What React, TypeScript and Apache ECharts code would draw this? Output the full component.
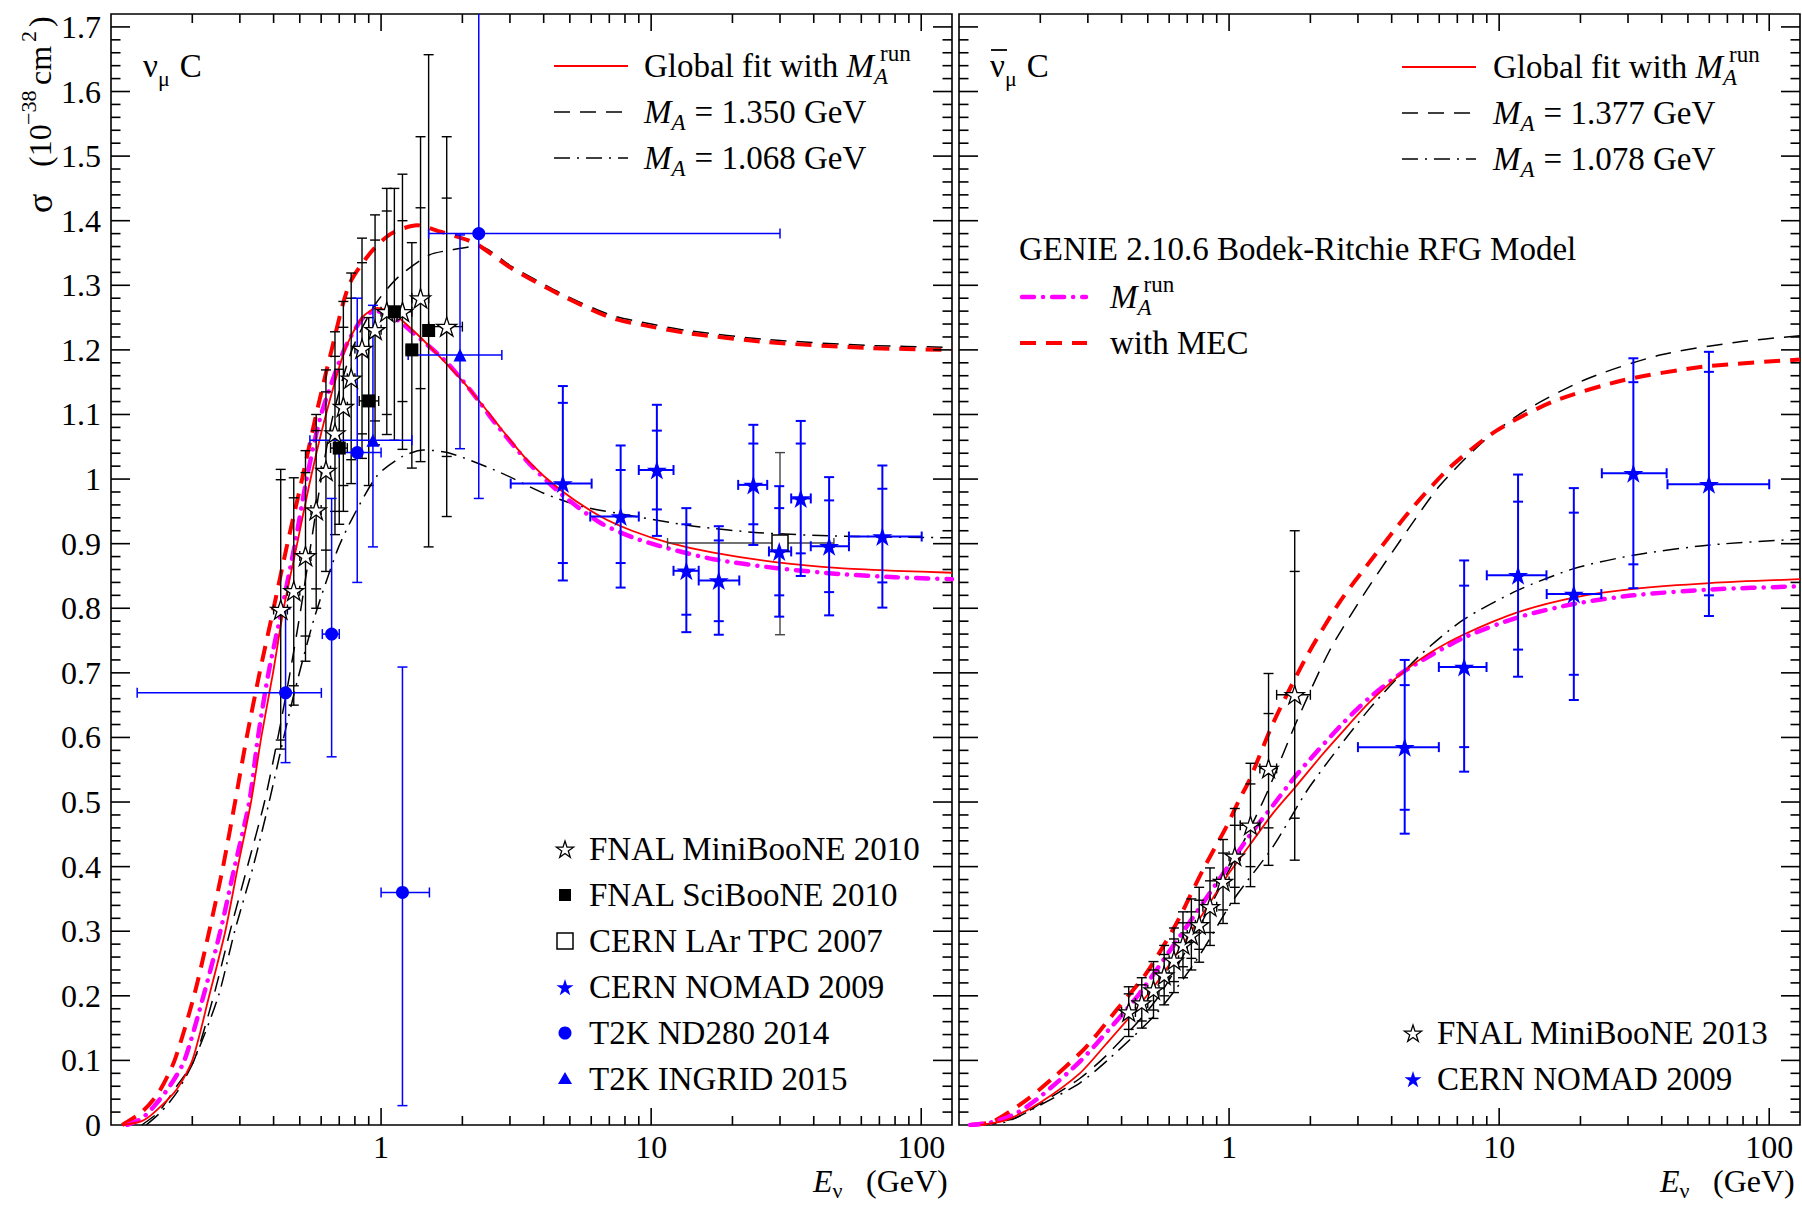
import React, { useEffect, useRef } from 'react';
import * as echarts from 'echarts';

const SERIF = '"Liberation Serif", "Times New Roman", Times, serif';
const X_MIN = 0.1;
const X_MAX = 130;
const Y_MIN = 0;
const Y_MAX = 1.72;

// ---------------- axis ticks / labels ----------------
const xLabelValues = [1, 10, 100];
const xMajorTicks = [1, 10, 100];
const xMinorTicks = [0.2, 0.3, 0.4, 0.5, 0.6, 0.7, 0.8, 0.9, 2, 3, 4, 5, 6, 7, 8, 9, 20, 30, 40, 50, 60, 70, 80, 90];
const yLabelValues = [0, 0.1, 0.2, 0.3, 0.4, 0.5, 0.6, 0.7, 0.8, 0.9, 1.0, 1.1, 1.2, 1.3, 1.4, 1.5, 1.6, 1.7];
const yMinorStep = 0.02;

// ---------------- model curves: nu_mu C (left) [E GeV, sigma] ----------------
const nuGlobalFit = [
  [0.11, 0], [0.13, 0.006], [0.145, 0.02], [0.175, 0.055], [0.2, 0.1], [0.231, 0.2], [0.265, 0.3], [0.295, 0.4],
  [0.33, 0.5], [0.36, 0.6], [0.398, 0.7], [0.436, 0.8], [0.489, 0.9], [0.548, 1.0], [0.625, 1.1], [0.735, 1.2],
  [0.85, 1.25], [0.97, 1.265], [1.1, 1.257], [1.3, 1.232], [1.6, 1.195], [2.0, 1.152], [2.4, 1.112], [2.77, 1.079],
  [3.5, 1.028], [4.62, 0.983], [6.5, 0.942], [8.5, 0.92], [11.5, 0.902], [17, 0.886], [29.3, 0.871], [50, 0.862],
  [80, 0.858], [130, 0.855],
];
const nuMArun = [
  [0.115, 0], [0.13, 0.01], [0.145, 0.03], [0.165, 0.06], [0.187, 0.1], [0.22, 0.2], [0.254, 0.3], [0.287, 0.4],
  [0.325, 0.5], [0.35, 0.6], [0.383, 0.7], [0.43, 0.8], [0.48, 0.9], [0.53, 1.0], [0.6, 1.1], [0.73, 1.2],
  [0.85, 1.248], [0.95, 1.26], [1.1, 1.252], [1.3, 1.228], [1.72, 1.184], [1.99, 1.154], [2.27, 1.124], [2.63, 1.088],
  [3.52, 1.025], [4.7, 0.975], [6.5, 0.932], [8.5, 0.91], [11.5, 0.893], [17, 0.876], [29.3, 0.862], [50, 0.853],
  [80, 0.848], [130, 0.845],
];
const nuMEC = [
  [0.11, 0], [0.13, 0.02], [0.15, 0.05], [0.172, 0.1], [0.203, 0.2], [0.231, 0.3], [0.26, 0.4], [0.288, 0.5],
  [0.318, 0.6], [0.355, 0.7], [0.4, 0.8], [0.45, 0.9], [0.51, 1.0], [0.575, 1.1], [0.656, 1.2], [0.76, 1.3],
  [0.92, 1.352], [1.09, 1.38], [1.36, 1.393], [1.66, 1.383], [2.09, 1.37], [2.3, 1.362], [3.02, 1.327], [4.62, 1.285],
  [7.07, 1.25], [10, 1.236], [13.6, 1.226], [26.9, 1.212], [63, 1.203], [130, 1.2],
];
const nuMA1350 = [
  [0.13, 0], [0.15, 0.02], [0.175, 0.06], [0.203, 0.1], [0.24, 0.2], [0.276, 0.3], [0.32, 0.4], [0.37, 0.5],
  [0.415, 0.6], [0.46, 0.7], [0.505, 0.8], [0.55, 0.9], [0.6, 1.0], [0.665, 1.1], [0.78, 1.2], [0.95, 1.27],
  [1.16, 1.313], [1.51, 1.347], [1.84, 1.355], [2.3, 1.361], [3.02, 1.33], [4.62, 1.288], [7.07, 1.254], [10, 1.24],
  [13.6, 1.23], [26.9, 1.216], [63, 1.207], [130, 1.204],
];
const nuMA1068 = [
  [0.135, 0], [0.153, 0.02], [0.175, 0.05], [0.203, 0.1], [0.25, 0.2], [0.287, 0.3], [0.336, 0.4], [0.385, 0.5],
  [0.436, 0.6], [0.481, 0.675], [0.566, 0.785], [0.689, 0.89], [0.784, 0.94], [0.97, 1.006], [1.2, 1.035], [1.44, 1.045],
  [1.8, 1.04], [2.77, 1.01], [4.0, 0.978], [5.5, 0.958], [7.5, 0.947], [14.4, 0.927], [25, 0.917], [47.5, 0.912],
  [130, 0.909],
];

// ---------------- model curves: anti-nu_mu C (right) ----------------
const nubarGlobalFit = [
  [0.12, 0], [0.15, 0.008], [0.2, 0.035], [0.28, 0.08], [0.35, 0.125], [0.43, 0.168], [0.55, 0.225], [0.7, 0.29],
  [0.873, 0.352], [1.0, 0.39], [1.2, 0.435], [1.45, 0.482], [1.75, 0.522], [2.2, 0.572], [2.57, 0.604], [3.32, 0.655],
  [4.47, 0.703], [5.5, 0.73], [7.36, 0.759], [11.75, 0.794], [19.1, 0.817], [31.4, 0.83], [60.3, 0.839], [130, 0.845],
];
const nubarMArun = [
  [0.11, 0], [0.135, 0.005], [0.163, 0.018], [0.2, 0.044], [0.28, 0.098], [0.372, 0.155], [0.467, 0.204], [0.657, 0.292],
  [0.898, 0.374], [1.2, 0.45], [1.455, 0.495], [1.7, 0.532], [1.935, 0.56], [2.64, 0.622], [3.32, 0.662], [4.47, 0.703],
  [7.36, 0.754], [11.75, 0.786], [19.1, 0.807], [31.4, 0.82], [60.3, 0.829], [130, 0.834],
];
const nubarMEC = [
  [0.11, 0], [0.133, 0.005], [0.178, 0.039], [0.226, 0.075], [0.296, 0.121], [0.383, 0.178], [0.494, 0.235], [0.638, 0.312],
  [0.8, 0.395], [0.978, 0.462], [1.095, 0.505], [1.19, 0.534], [1.455, 0.622], [1.935, 0.725], [2.57, 0.81], [3.32, 0.872],
  [4.7, 0.952], [6.57, 1.018], [9.78, 1.075], [15.85, 1.12], [28.8, 1.153], [57, 1.174], [130, 1.185],
];
const nubarMA1377 = [
  [0.12, 0], [0.16, 0.01], [0.2, 0.033], [0.28, 0.072], [0.36, 0.112], [0.54, 0.195], [0.76, 0.3], [1.0, 0.395],
  [1.2, 0.46], [1.4, 0.52], [1.78, 0.625], [2.36, 0.735], [3.23, 0.828], [4.58, 0.921], [6.03, 0.99], [8.72, 1.058],
  [12.6, 1.107], [21.1, 1.155], [39.4, 1.192], [75.7, 1.212], [130, 1.222],
];
const nubarMA1078 = [
  [0.12, 0], [0.15, 0.005], [0.2, 0.031], [0.28, 0.065], [0.361, 0.103], [0.539, 0.173], [0.757, 0.255], [1.035, 0.348],
  [1.455, 0.431], [1.99, 0.524], [3.32, 0.645], [5.09, 0.727], [7.36, 0.782], [11.75, 0.828], [19.1, 0.862], [31.4, 0.882],
  [60.3, 0.898], [130, 0.907],
];

// ---------------- data points: [E, sigma, Elo, Ehi, sigLo, sigHi, innerLo, innerHi] ----------------
const nuMiniBooNE2010 = [
  [0.425, 0.798, 0.40, 0.45, 0.582, 1.015, 0.596, 0.999],
  [0.475, 0.827, 0.45, 0.50, 0.650, 1.002, 0.680, 0.971],
  [0.525, 0.881, 0.50, 0.55, 0.718, 1.044, 0.757, 1.010],
  [0.575, 0.952, 0.55, 0.60, 0.800, 1.100, 0.830, 1.075],
  [0.625, 1.013, 0.60, 0.65, 0.857, 1.169, 0.890, 1.135],
  [0.675, 1.071, 0.65, 0.70, 0.914, 1.228, 0.950, 1.190],
  [0.725, 1.112, 0.70, 0.75, 0.950, 1.275, 0.990, 1.235],
  [0.775, 1.156, 0.75, 0.80, 0.993, 1.319, 1.030, 1.280],
  [0.85, 1.202, 0.80, 0.90, 1.032, 1.373, 1.070, 1.335],
  [0.95, 1.231, 0.90, 1.00, 1.053, 1.409, 1.090, 1.370],
  [1.05, 1.259, 1.00, 1.10, 1.069, 1.450, 1.100, 1.415],
  [1.2, 1.259, 1.10, 1.30, 1.046, 1.472, 1.120, 1.400],
  [1.4, 1.280, 1.30, 1.50, 1.027, 1.530, 1.140, 1.420],
  [1.75, 1.236, 1.50, 2.00, 0.942, 1.530, 1.035, 1.435],
];
const nuSciBooNE2010 = [
  [0.70, 1.048, 0.65, 0.75, 0.930, 1.170, null, null],
  [0.90, 1.121, 0.83, 0.98, 0.990, 1.250, null, null],
  [1.12, 1.259, 1.06, 1.18, 1.060, 1.450, null, null],
  [1.30, 1.200, 1.24, 1.36, 1.017, 1.366, null, null],
  [1.50, 1.230, 1.44, 1.56, 0.895, 1.657, null, null],
];
const nuLArTPC2007 = [
  [30, 0.901, 11.5, 47.5, 0.759, 1.041, null, null],
];
const nuNOMAD2009 = [
  [4.71, 0.993, 3.02, 6.02, 0.843, 1.144, 0.870, 1.118],
  [7.71, 0.942, 5.95, 9.0, 0.832, 1.052, 0.870, 1.014],
  [10.5, 1.014, 9.0, 12.1, 0.912, 1.115, 0.953, 1.075],
  [13.5, 0.858, 12.1, 15.0, 0.763, 0.955, 0.790, 0.930],
  [17.8, 0.843, 15.0, 21.2, 0.759, 0.927, 0.780, 0.905],
  [23.9, 0.991, 21.0, 26.9, 0.898, 1.084, 0.930, 1.055],
  [29.8, 0.888, 27.3, 33.0, 0.787, 0.989, 0.820, 0.955],
  [35.8, 0.970, 33.0, 39.0, 0.850, 1.090, 0.885, 1.055],
  [45.6, 0.896, 39.0, 54.0, 0.789, 1.003, 0.825, 0.967],
  [71.8, 0.911, 54.0, 100.4, 0.801, 1.021, 0.840, 0.985],
];
const nuND2802014 = [
  [0.443, 0.669, 0.125, 0.601, 0.561, 0.799, null, null],
  [0.656, 0.760, 0.606, 0.70, 0.570, 0.970, null, null],
  [0.816, 1.041, 0.70, 1.0, 0.840, 1.280, null, null],
  [1.2, 0.360, 1.0, 1.51, 0.030, 0.709, null, null],
  [2.3, 1.380, 1.5, 30, 0.970, 1.850, null, null],
];
const nuINGRID2015 = [
  [0.933, 1.060, 0.545, 1.30, 0.895, 1.269, null, null],
  [1.96, 1.192, 1.26, 2.8, 1.047, 1.378, null, null],
];

const nubarMiniBooNE2013 = [
  [0.425, 0.175, 0.40, 0.45, 0.137, 0.214, 0.148, 0.203],
  [0.475, 0.189, 0.45, 0.50, 0.150, 0.228, 0.161, 0.217],
  [0.525, 0.209, 0.50, 0.55, 0.165, 0.253, 0.178, 0.240],
  [0.575, 0.232, 0.55, 0.60, 0.186, 0.278, 0.200, 0.264],
  [0.625, 0.255, 0.60, 0.65, 0.205, 0.305, 0.222, 0.288],
  [0.675, 0.279, 0.65, 0.70, 0.228, 0.330, 0.245, 0.313],
  [0.725, 0.294, 0.70, 0.75, 0.240, 0.350, 0.258, 0.330],
  [0.775, 0.310, 0.75, 0.80, 0.252, 0.368, 0.272, 0.348],
  [0.85, 0.338, 0.80, 0.90, 0.278, 0.398, 0.298, 0.378],
  [0.95, 0.377, 0.90, 1.00, 0.312, 0.442, 0.333, 0.421],
  [1.05, 0.416, 1.00, 1.10, 0.343, 0.490, 0.368, 0.464],
  [1.2, 0.464, 1.10, 1.30, 0.369, 0.560, 0.400, 0.528],
  [1.4, 0.552, 1.30, 1.50, 0.402, 0.699, 0.460, 0.637],
  [1.75, 0.666, 1.50, 2.00, 0.410, 0.920, 0.475, 0.857],
];
const nubarNOMAD2009 = [
  [4.47, 0.585, 3.0, 5.98, 0.451, 0.720, 0.488, 0.681],
  [7.42, 0.709, 5.98, 8.98, 0.547, 0.874, 0.585, 0.835],
  [11.75, 0.851, 9.0, 14.97, 0.694, 1.007, 0.736, 0.965],
  [18.9, 0.822, 15.0, 23.9, 0.658, 0.986, 0.697, 0.948],
  [31.4, 1.009, 24.0, 41.7, 0.831, 1.187, 0.868, 1.150],
  [59.8, 0.992, 42.0, 100, 0.788, 1.197, 0.820, 1.166],
];

// ---------------- helpers ----------------
const STAR_PATH =
  'path://M50,2 L60.76,35.19 L95.65,35.17 L67.4,55.65 L78.21,88.83 L50,68.3 L21.79,88.83 L32.6,55.65 L4.35,35.17 L39.24,35.19 Z';

let measureCtx: CanvasRenderingContext2D | null = null;
function tw(t: string, size: number, italic: boolean) {
  if (!measureCtx) measureCtx = document.createElement('canvas').getContext('2d');
  if (!measureCtx) return t.length * size * 0.5;
  measureCtx.font = `${italic ? 'italic ' : ''}${size}px ${SERIF}`;
  return measureCtx.measureText(t).width;
}

function txt(x: number, y: number, t: string, size: number, italic = false, fill = '#000') {
  return {
    type: 'text',
    x,
    y,
    silent: true,
    style: {
      text: t,
      fontSize: size,
      fontFamily: SERIF,
      fontStyle: italic ? 'italic' : 'normal',
      fill,
      align: 'left',
      textAlign: 'left',
      verticalAlign: 'middle',
      textVerticalAlign: 'middle',
    },
  };
}

type Piece = { t: string; size?: number; it?: boolean; dy?: number; dx?: number; same?: boolean; ax?: number };
const LS = 33; // legend font size
function textRun(x0: number, y0: number, pieces: Piece[], base = LS) {
  const els: any[] = [];
  let cursor = x0;
  let prevStart = x0;
  for (const p of pieces) {
    const size = p.size ?? base;
    const start = p.ax !== undefined ? p.ax : (p.same ? prevStart : cursor) + (p.dx ?? 0);
    els.push(txt(start, y0 + (p.dy ?? 0), p.t, size, !!p.it));
    const end = start + tw(p.t, size, !!p.it);
    cursor = p.same ? Math.max(cursor, end) : end;
    prevStart = start;
  }
  return els;
}

function starPts(cx: number, cy: number, R: number) {
  const pts: number[][] = [];
  for (let k = 0; k < 10; k++) {
    const r = k % 2 === 0 ? R : R * 0.382;
    const a = -Math.PI / 2 + (k * Math.PI) / 5;
    pts.push([cx + r * Math.cos(a), cy + r * Math.sin(a)]);
  }
  return pts;
}

function hline(x1: number, x2: number, y: number, stroke: string, lineWidth: number, lineDash?: number[], cap = 'butt') {
  return {
    type: 'line',
    silent: true,
    shape: { x1, y1: y, x2, y2: y },
    style: { stroke, lineWidth, lineDash: lineDash || null, lineCap: cap },
  };
}

function errorBarRenderer(color: string, lw: number, cap: number) {
  return function (_params: any, api: any) {
    const x = api.value(0);
    const y = api.value(1);
    const xlo = api.value(2);
    const xhi = api.value(3);
    const ylo = api.value(4);
    const yhi = api.value(5);
    const ilo = api.value(6);
    const ihi = api.value(7);
    const style = { stroke: color, lineWidth: lw, fill: null };
    const c = api.coord([x, y]);
    const kids: any[] = [];
    const L = (x1: number, y1: number, x2: number, y2: number) => ({ type: 'line', shape: { x1, y1, x2, y2 }, style });
    const pt = api.coord([x, Math.min(yhi, Y_MAX)]);
    const pb = api.coord([x, Math.max(ylo, Y_MIN)]);
    kids.push(L(c[0], pb[1], c[0], pt[1]));
    kids.push(L(c[0] - cap, pb[1], c[0] + cap, pb[1]));
    if (yhi <= Y_MAX) kids.push(L(c[0] - cap, pt[1], c[0] + cap, pt[1]));
    if (Number.isFinite(ilo)) {
      const q = api.coord([x, ilo]);
      kids.push(L(c[0] - cap, q[1], c[0] + cap, q[1]));
    }
    if (Number.isFinite(ihi)) {
      const q = api.coord([x, ihi]);
      kids.push(L(c[0] - cap, q[1], c[0] + cap, q[1]));
    }
    if (xhi > xlo) {
      const l = api.coord([xlo, y]);
      const r = api.coord([xhi, y]);
      kids.push(L(l[0], c[1], r[0], c[1]));
      kids.push(L(l[0], c[1] - cap, l[0], c[1] + cap));
      kids.push(L(r[0], c[1] - cap, r[0], c[1] + cap));
    }
    return { type: 'group', children: kids };
  };
}

const tickStyle = { stroke: '#000', lineWidth: 1.6 };
function xTickRender(_p: any, api: any) {
  const v = api.value(0);
  const major = api.value(2) === 1;
  const len = major ? 17 : 9;
  const b = api.coord([v, Y_MIN]);
  const t = api.coord([v, Y_MAX]);
  return {
    type: 'group',
    children: [
      { type: 'line', shape: { x1: b[0], y1: b[1], x2: b[0], y2: b[1] - len }, style: tickStyle },
      { type: 'line', shape: { x1: t[0], y1: t[1], x2: t[0], y2: t[1] + len }, style: tickStyle },
    ],
  };
}
function yTickRender(_p: any, api: any) {
  const v = api.value(1);
  const major = api.value(2) === 1;
  const len = major ? 19 : 9.5;
  const l = api.coord([X_MIN, v]);
  const r = api.coord([X_MAX, v]);
  return {
    type: 'group',
    children: [
      { type: 'line', shape: { x1: l[0], y1: l[1], x2: l[0] + len, y2: l[1] }, style: tickStyle },
      { type: 'line', shape: { x1: r[0], y1: r[1], x2: r[0] - len, y2: r[1] }, style: tickStyle },
    ],
  };
}

function curve(name: string, data: number[][], axis: number, color: string, width: number, type: any, cap = 'butt', z = 2) {
  return {
    name,
    type: 'line',
    xAxisIndex: axis,
    yAxisIndex: axis,
    data,
    showSymbol: false,
    symbol: 'none',
    smooth: 0.25,
    lineStyle: { color, width, type, cap, join: 'round' },
    silent: true,
    z,
  };
}

function errSeries(name: string, rows: any[], axis: number, color: string, lw: number, cap: number) {
  return {
    name: name + ' (errors)',
    type: 'custom',
    xAxisIndex: axis,
    yAxisIndex: axis,
    dimensions: ['E', 'sigma', 'Elo', 'Ehi', 'sLo', 'sHi', 'iLo', 'iHi'],
    encode: { x: 0, y: 1 },
    data: rows,
    renderItem: errorBarRenderer(color, lw, cap),
    silent: true,
    clip: false,
    z: 3,
  };
}

function markers(name: string, rows: any[], axis: number, symbol: string, size: number, fill: string, stroke: string, bw: number) {
  return {
    name,
    type: 'scatter',
    xAxisIndex: axis,
    yAxisIndex: axis,
    data: rows.map((r: any[]) => [r[0], r[1]]),
    symbol,
    symbolSize: size,
    symbolKeepAspect: true,
    itemStyle: { color: fill, borderColor: stroke, borderWidth: bw, opacity: 1 },
    silent: true,
    z: 4,
  };
}

function MArun(x: number, y: number, prefix?: string) {
  const pieces: Piece[] = [];
  if (prefix) pieces.push({ t: prefix });
  pieces.push({ t: 'M', it: true });
  pieces.push({ t: 'A', it: true, size: 23, dy: 10 });
  pieces.push({ t: 'run', size: 23, dy: -13, same: true, dx: 6 });
  return textRun(x, y, pieces);
}
function MAval(x: number, y: number, val: string) {
  return textRun(x, y, [
    { t: 'M', it: true },
    { t: 'A', it: true, size: 23, dy: 10 },
    { t: '= ' + val + ' GeV', dx: 9 },
  ]);
}

function buildOption() {
  const xTickData = [...xMajorTicks.map((v) => [v, 0.5, 1]), ...xMinorTicks.map((v) => [v, 0.5, 0])];
  const yTickData: number[][] = yLabelValues.filter((v) => v > 0).map((v) => [1, v, 1]);
  for (let k = 1; k * yMinorStep < Y_MAX - 0.005; k++) {
    if (k % 5 !== 0) yTickData.push([1, k * yMinorStep, 0]);
  }

  const series: any[] = [];
  for (const a of [0, 1]) {
    series.push({ type: 'custom', name: 'xticks' + a, xAxisIndex: a, yAxisIndex: a, data: xTickData, encode: { x: 0, y: 1 }, renderItem: xTickRender, silent: true, clip: false, z: 6 });
    series.push({ type: 'custom', name: 'yticks' + a, xAxisIndex: a, yAxisIndex: a, data: yTickData, encode: { x: 0, y: 1 }, renderItem: yTickRender, silent: true, clip: false, z: 6 });
  }

  const dash = [16, 10];
  const dashDot = [16, 7, 2, 7];
  const magDash = [12, 9, 0.1, 9];

  // Left panel curves
  series.push(curve('M_A = 1.350 GeV', nuMA1350, 0, '#000', 1.5, dash));
  series.push(curve('M_A = 1.068 GeV', nuMA1068, 0, '#000', 1.5, dashDot));
  series.push(curve('GENIE with MEC', nuMEC, 0, '#ff0000', 4, dash));
  series.push(curve('GENIE M_A^run', nuMArun, 0, '#ff00ff', 4.5, magDash, 'round'));
  series.push(curve('Global fit with M_A^run', nuGlobalFit, 0, '#ff0000', 1.8, 'solid'));
  // Right panel curves
  series.push(curve('M_A = 1.377 GeV', nubarMA1377, 1, '#000', 1.5, dash));
  series.push(curve('M_A = 1.078 GeV', nubarMA1078, 1, '#000', 1.5, dashDot));
  series.push(curve('GENIE with MEC ', nubarMEC, 1, '#ff0000', 4, dash));
  series.push(curve('GENIE M_A^run ', nubarMArun, 1, '#ff00ff', 4.5, magDash, 'round'));
  series.push(curve('Global fit with M_A^run ', nubarGlobalFit, 1, '#ff0000', 1.8, 'solid'));

  // Left panel data
  series.push(errSeries('FNAL MiniBooNE 2010', nuMiniBooNE2010, 0, '#000', 1.4, 5));
  series.push(errSeries('FNAL SciBooNE 2010', nuSciBooNE2010, 0, '#000', 1.4, 5));
  series.push(errSeries('CERN LAr TPC 2007', nuLArTPC2007, 0, '#444', 1.4, 5));
  series.push(errSeries('CERN NOMAD 2009', nuNOMAD2009, 0, '#0000ff', 2, 5));
  series.push(errSeries('T2K ND280 2014', nuND2802014, 0, '#0000ff', 1.5, 5));
  series.push(errSeries('T2K INGRID 2015', nuINGRID2015, 0, '#0000ff', 1.5, 5));
  series.push(markers('FNAL MiniBooNE 2010', nuMiniBooNE2010, 0, STAR_PATH, 20, '#ffffff', '#000', 1.3));
  series.push(markers('FNAL SciBooNE 2010', nuSciBooNE2010, 0, 'rect', 13, '#000', '#000', 0));
  series.push(markers('CERN LAr TPC 2007', nuLArTPC2007, 0, 'rect', 16, '#ffffff', '#000', 1.5));
  series.push(markers('CERN NOMAD 2009', nuNOMAD2009, 0, STAR_PATH, 20, '#0000ff', '#0000ff', 0));
  series.push(markers('T2K ND280 2014', nuND2802014, 0, 'circle', 13, '#0000ff', '#0000ff', 0));
  series.push(markers('T2K INGRID 2015', nuINGRID2015, 0, 'triangle', 13, '#0000ff', '#0000ff', 0));
  // Right panel data
  series.push(errSeries('FNAL MiniBooNE 2013', nubarMiniBooNE2013, 1, '#000', 1.4, 5));
  series.push(errSeries('CERN NOMAD 2009 ', nubarNOMAD2009, 1, '#0000ff', 2, 5));
  series.push(markers('FNAL MiniBooNE 2013', nubarMiniBooNE2013, 1, STAR_PATH, 19, '#ffffff', '#000', 1.3));
  series.push(markers('CERN NOMAD 2009 ', nubarNOMAD2009, 1, STAR_PATH, 20, '#0000ff', '#0000ff', 0));

  // ---------------- graphic: legends, titles ----------------
  const g: any[] = [];
  // left top legend
  g.push(hline(554, 628, 66, '#ff0000', 1.8));
  g.push(...MArun(644, 66, 'Global fit with '));
  g.push(hline(554, 628, 112, '#000', 1.5, dash));
  g.push(...MAval(644, 112, '1.350'));
  g.push(hline(554, 628, 158, '#000', 1.5, dashDot));
  g.push(...MAval(644, 158, '1.068'));
  // right top legend
  g.push(hline(1402, 1476, 67, '#ff0000', 1.8));
  g.push(...MArun(1493, 67, 'Global fit with '));
  g.push(hline(1402, 1476, 113, '#000', 1.5, dash));
  g.push(...MAval(1493, 113, '1.377'));
  g.push(hline(1402, 1476, 159, '#000', 1.5, dashDot));
  g.push(...MAval(1493, 159, '1.078'));
  // GENIE legend
  g.push(txt(1019, 249, 'GENIE 2.10.6 Bodek-Ritchie RFG Model', LS));
  g.push(hline(1022, 1086, 297, '#ff00ff', 4.5, magDash, 'round'));
  g.push(...MArun(1110, 297));
  g.push(hline(1020, 1087, 343, '#ff0000', 4, dash));
  g.push(txt(1110, 343, 'with MEC', LS));

  // left bottom legend (markers)
  const lx = 565;
  const ltx = 589;
  const rows = [849, 895, 941, 987, 1033, 1079];
  g.push({ type: 'polygon', silent: true, shape: { points: starPts(lx, rows[0] + 1, 9) }, style: { fill: '#fff', stroke: '#000', lineWidth: 1.3 } });
  g.push(txt(ltx, rows[0], 'FNAL MiniBooNE 2010', LS));
  g.push({ type: 'rect', silent: true, shape: { x: lx - 6, y: rows[1] - 6, width: 12, height: 12 }, style: { fill: '#000' } });
  g.push(txt(ltx, rows[1], 'FNAL SciBooNE 2010', LS));
  g.push({ type: 'rect', silent: true, shape: { x: lx - 8, y: rows[2] - 8, width: 16, height: 16 }, style: { fill: '#fff', stroke: '#000', lineWidth: 1.5 } });
  g.push(txt(ltx, rows[2], 'CERN LAr TPC 2007', LS));
  g.push({ type: 'polygon', silent: true, shape: { points: starPts(lx, rows[3] + 1, 9) }, style: { fill: '#0000ff' } });
  g.push(txt(ltx, rows[3], 'CERN NOMAD 2009', LS));
  g.push({ type: 'circle', silent: true, shape: { cx: lx, cy: rows[4], r: 6.5 }, style: { fill: '#0000ff' } });
  g.push(txt(ltx, rows[4], 'T2K ND280 2014', LS));
  g.push({ type: 'polygon', silent: true, shape: { points: [[lx, rows[5] - 7], [lx + 7, rows[5] + 5], [lx - 7, rows[5] + 5]] }, style: { fill: '#0000ff' } });
  g.push(txt(ltx, rows[5], 'T2K INGRID 2015', LS));

  // right bottom legend
  const rx = 1413;
  const rtx = 1437;
  g.push({ type: 'polygon', silent: true, shape: { points: starPts(rx, 1034, 9) }, style: { fill: '#fff', stroke: '#000', lineWidth: 1.3 } });
  g.push(txt(rtx, 1033, 'FNAL MiniBooNE 2013', LS));
  g.push({ type: 'polygon', silent: true, shape: { points: starPts(rx, 1080, 9) }, style: { fill: '#0000ff' } });
  g.push(txt(rtx, 1079, 'CERN NOMAD 2009', LS));

  // panel labels
  g.push(...textRun(143, 66, [{ t: 'ν' }, { t: 'μ', size: 22, dy: 12 }, { t: 'C', dx: 10 }], 33));
  g.push(...textRun(990, 66, [{ t: 'ν' }, { t: 'μ', size: 22, dy: 12 }, { t: 'C', dx: 10 }], 33));
  g.push(hline(991, 1007, 50, '#000', 1.8));

  // x-axis titles
  g.push(...textRun(813, 1181, [{ t: 'E', it: true }, { t: 'ν', size: 22, dy: 9 }, { t: '(GeV)', ax: 866 }], 32));
  g.push(...textRun(1660, 1181, [{ t: 'E', it: true }, { t: 'ν', size: 22, dy: 9 }, { t: '(GeV)', ax: 1713 }], 32));

  // y-axis title (rotated)
  g.push({
    type: 'group',
    x: 40,
    y: 213,
    rotation: Math.PI / 2,
    silent: true,
    children: [
      txt(0, 0, 'σ', 36),
      txt(46, 0, '(10', 32),
      txt(88, -12, '−38', 22),
      txt(128, 0, 'cm', 32),
      txt(171, -12, '2', 22),
      txt(186, 0, ')', 32),
    ],
  });

  const gridBase = { show: true, borderColor: '#000', borderWidth: 1.6, backgroundColor: 'transparent', containLabel: false, outerBoundsMode: 'none' };

  return {
    animation: false,
    backgroundColor: '#ffffff',
    textStyle: { fontFamily: SERIF },
    grid: [
      { ...gridBase, left: 111, top: 14, width: 841, height: 1111 },
      { ...gridBase, left: 959, top: 14, width: 841, height: 1111 },
    ],
    xAxis: [0, 1].map((i) => ({
      gridIndex: i,
      type: 'log',
      logBase: 10,
      min: X_MIN,
      max: X_MAX,
      axisLine: { show: false },
      axisTick: { show: false },
      minorTick: { show: false },
      splitLine: { show: false },
      axisLabel: {
        show: true,
        fontFamily: SERIF,
        fontSize: 32,
        color: '#000',
        margin: 6,
        formatter: (v: number) => {
          const hit = xLabelValues.find((t) => Math.abs(v - t) < 1e-6 * t);
          return hit !== undefined ? String(hit) : '';
        },
      },
    })),
    yAxis: [0, 1].map((i) => ({
      gridIndex: i,
      type: 'value',
      min: Y_MIN,
      max: Y_MAX,
      interval: 0.1,
      axisLine: { show: false },
      axisTick: { show: false },
      minorTick: { show: false },
      splitLine: { show: false },
      axisLabel: {
        show: i === 0,
        fontFamily: SERIF,
        fontSize: 32,
        color: '#000',
        margin: 10,
        formatter: (v: number) => {
          const hit = yLabelValues.find((t) => Math.abs(v - t) < 1e-6);
          if (hit === undefined) return '';
          return Number.isInteger(hit) ? String(hit) : hit.toFixed(1);
        },
      },
    })),
    series,
    graphic: { elements: g },
  };
}

export default function App() {
  const ref = useRef<HTMLDivElement>(null);
  useEffect(() => {
    document.body.style.margin = '0';
    const el = ref.current;
    if (!el) return;
    const chart = echarts.init(el, null, { renderer: 'svg' });
    chart.setOption(buildOption() as any);
    return () => chart.dispose();
  }, []);
  return (
    <div
      ref={ref}
      style={{ position: 'absolute', left: 0, top: 0, width: 1802, height: 1205, background: '#ffffff' }}
    />
  );
}
